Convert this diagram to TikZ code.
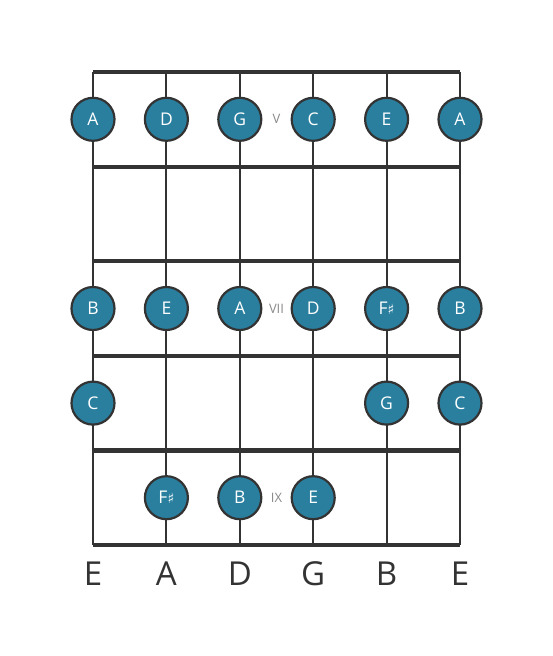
\documentclass[tikz,border=0pt]{standalone}
\usepackage{fontspec}
\setmainfont{Open Sans}
\newfontfamily\symfont{DejaVu Sans}
\definecolor{notefill}{HTML}{2A7F9F}
\definecolor{linecol}{HTML}{333333}
\definecolor{fretlbl}{HTML}{8A8A8A}
\begin{document}
\begin{tikzpicture}[x=1pt,y=-1pt,
  stringline/.style={draw=linecol,line width=2pt},
  fretline/.style={draw=linecol,line width=4.2pt},
  note/.style={circle,draw=linecol,line width=2.2pt,fill=notefill,minimum size=43pt,inner sep=0pt,text=white,font=\fontsize{17.5}{17.5}\selectfont},
  fretnum/.style={text=fretlbl,font=\fontsize{13}{13}\selectfont},
  strname/.style={text=linecol,font=\fontsize{33}{33}\selectfont}]
\useasboundingbox (0,0) rectangle (553,656);
\def\sx{73.4}
\def\fy{94.6}
% strings
\foreach \i in {0,...,5} {
  \coordinate (st\i) at ({93+\i*\sx},72);
  \coordinate (sb\i) at ({93+\i*\sx},545);
  \draw[stringline] (st\i) -- (sb\i);
}
% frets
\foreach \j in {0,...,5} {
  \coordinate (fl\j) at (93,{72+\j*\fy});
  \coordinate (fr\j) at (460,{72+\j*\fy});
  \draw[fretline] (fl\j) -- (fr\j);
}
% notes
\newcommand\putnote[4]{\node[note] (#1) at ({93+#2*\sx},{72+(#3+0.5)*\fy}) {#4};}
\putnote{n00}{0}{0}{A}
\putnote{n01}{1}{0}{D}
\putnote{n02}{2}{0}{G}
\putnote{n03}{3}{0}{C}
\putnote{n04}{4}{0}{E}
\putnote{n05}{5}{0}{A}
\putnote{n20}{0}{2}{B}
\putnote{n21}{1}{2}{E}
\putnote{n22}{2}{2}{A}
\putnote{n23}{3}{2}{D}
\putnote{n24}{4}{2}{F{\symfont\fontsize{14}{14}\selectfont ♯}}
\putnote{n25}{5}{2}{B}
\putnote{n30}{0}{3}{C}
\putnote{n34}{4}{3}{G}
\putnote{n35}{5}{3}{C}
\putnote{n41}{1}{4}{F{\symfont\fontsize{14}{14}\selectfont ♯}}
\putnote{n42}{2}{4}{B}
\putnote{n43}{3}{4}{E}
% fret numbers
\node[fretnum] (fV) at ({93+2.5*\sx},{72+0.5*\fy}) {V};
\node[fretnum] (fVII) at ({93+2.5*\sx},{72+2.5*\fy}) {VII};
\node[fretnum] (fIX) at ({93+2.5*\sx},{72+4.5*\fy}) {IX};
% string names
\foreach \i/\n in {0/E,1/A,2/D,3/G,4/B,5/E}
  \node[strname] (sn\i) at ({93+\i*\sx},574) {\n};
\end{tikzpicture}
\end{document}
